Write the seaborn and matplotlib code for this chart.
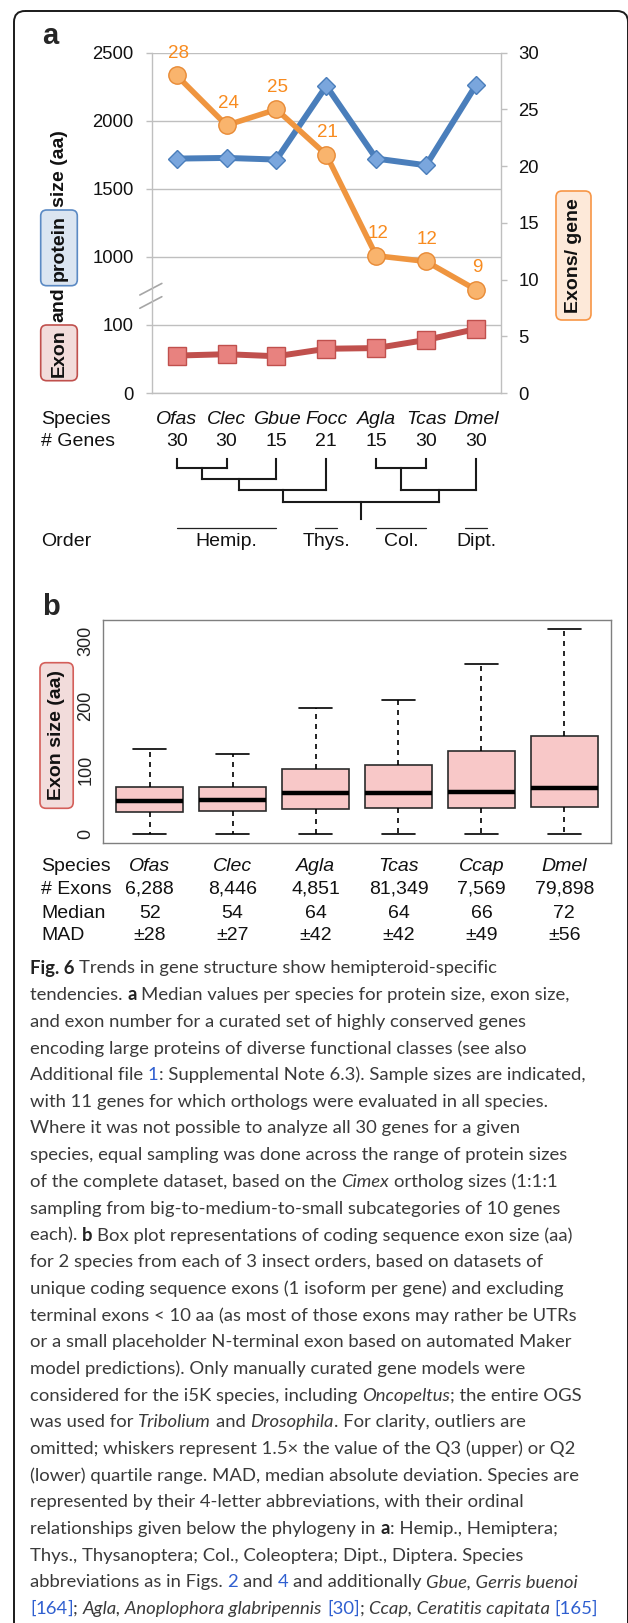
import numpy as np
import pandas as pd
import matplotlib
matplotlib.use("Agg")
import matplotlib.pyplot as plt
import matplotlib.transforms as mtransforms
from matplotlib.patches import FancyBboxPatch
import seaborn as sns

# ---- panel a data ----
species_a = ['Ofas', 'Clec', 'Gbue', 'Focc', 'Agla', 'Tcas', 'Dmel']
n_genes = [30, 30, 15, 21, 15, 30, 30]
protein_size = [1722, 1727, 1715, 2256, 1722, 1673, 2263]
exon_size = [55, 57, 54, 65, 66, 78, 94]
exons_per_gene = [28.0, 23.6, 25.0, 21.0, 12.1, 11.6, 9.1]
exon_labels = ['28', '24', '25', '21', '12', '12', '9']
left_ticks = [0, 100, 1000, 1500, 2000, 2500]
right_ticks = [0, 5, 10, 15, 20, 25, 30]

# phylogeny: (level, children), leaves are species indices
tree = (4, [(3, [(2, [(1, [0, 1]), 2]), 3]), (3, [(1, [4, 5]), 6])])
orders = [('Hemip.', 0, 2), ('Thys.', 3, 3), ('Col.', 4, 5), ('Dipt.', 6, 6)]

# ---- panel b data ----
species_b = ['Ofas', 'Clec', 'Agla', 'Tcas', 'Ccap', 'Dmel']
n_exons = ['6,288', '8,446', '4,851', '81,349', '7,569', '79,898']
medians = [52, 54, 64, 64, 66, 72]
mads = [28, 27, 42, 42, 49, 56]
# five-number summaries
box_low = [1, 1, 0, 0, 1, 0]
box_q1 = [35, 37, 40, 41, 41, 43]
box_q3 = [74, 73, 102, 108, 130, 153]
box_high = [132, 125, 196, 208, 264, 319]

sns.set_style("white")
plt.rcParams['font.family'] = ['Liberation Sans', 'DejaVu Sans']

W, H = 628, 1623
fig = plt.figure(figsize=(W / 100, H / 100), dpi=100)
fig.patch.set_facecolor('white')
px = mtransforms.Affine2D().scale(1 / W, -1 / H).translate(0, 1) + fig.transFigure


def frac_rect(x0, y0, x1, y1):
    return [x0 / W, 1 - y1 / H, (x1 - x0) / W, (y1 - y0) / H]


def label_box(x0, y0, x1, y1, face, edge):
    fig.add_artist(FancyBboxPatch((x0, y0), x1 - x0, y1 - y0,
                                  boxstyle='round,pad=0,rounding_size=6',
                                  transform=px, facecolor=face, edgecolor=edge,
                                  linewidth=1.2))


# outer frame
fig.add_artist(FancyBboxPatch((14, 11), 614, 1700, boxstyle='round,pad=0,rounding_size=11',
                              transform=px, facecolor='none', edgecolor='#1a1a1a', linewidth=1.4))

gray = '#bfbfbf'
blue, blue_face = '#4a7ebb', '#7aa6dd'
red, red_face = '#c0504d', '#e8827f'
orange, orange_face = '#ef953f', '#f9b46d'

# ================= panel a =================
df_a = pd.DataFrame({'species': species_a, 'protein': protein_size,
                     'exon': exon_size, 'exons_gene': exons_per_gene})

ax = fig.add_axes(frac_rect(151.7, 52.7, 501, 393))
sns.pointplot(data=df_a, x='species', y='exon', order=species_a, ax=ax, color=red,
              markers='s', errorbar=None, markersize=12.5, linewidth=4.3)
ln = ax.lines[-1]
ln.set_markerfacecolor(red_face); ln.set_markeredgecolor(red); ln.set_markeredgewidth(1)
sns.pointplot(data=df_a, x='species', y='protein', order=species_a, ax=ax, color=blue,
              markers='D', errorbar=None, markersize=9.5, linewidth=4.3)
ln = ax.lines[-1]
ln.set_markerfacecolor(blue_face); ln.set_markeredgecolor(blue); ln.set_markeredgewidth(1)


def fwd(v):
    v = np.asarray(v, dtype=float)
    return np.where(v <= 100, v / 100, np.where(v <= 1000, 1 + (v - 100) / 900, 2 + (v - 1000) / 500))


def inv(p):
    p = np.asarray(p, dtype=float)
    return np.where(p <= 1, p * 100, np.where(p <= 2, 100 + (p - 1) * 900, 1000 + (p - 2) * 500))


ax.set_yscale('function', functions=(fwd, inv))
ax.set_ylim(0, 2500)
ax.set_yticks(left_ticks, labels=[str(t) for t in left_ticks])
ax.grid(axis='y', color=gray, linewidth=1)
ax.grid(axis='x', visible=False)
ax.set_axisbelow(True)

ax2 = ax.twinx()
sns.pointplot(data=df_a, x='species', y='exons_gene', order=species_a, ax=ax2, color=orange,
              markers='o', errorbar=None, markersize=12.5, linewidth=4)
ln = ax2.lines[-1]
ln.set_markerfacecolor(orange_face); ln.set_markeredgecolor('#e88a35'); ln.set_markeredgewidth(1)
ax2.set_ylim(0, 30)
ax2.set_yticks(right_ticks, labels=[str(t) for t in right_ticks])
for i, (v, lbl) in enumerate(zip(exons_per_gene, exon_labels)):
    ax2.annotate(lbl, (i, v), xytext=(1, 16), textcoords='offset points', ha='center',
                 va='center', color='#f88b1f', fontsize=13.5)

ax.set_xlim(-0.5, len(species_a) - 0.5)
ax.set_xticks(np.arange(len(species_a) + 1) - 0.5)
ax.set_xticklabels([])
for a in (ax, ax2):
    a.set_xlabel(''); a.set_ylabel('')
    for s in a.spines.values():
        s.set_visible(False)
ax.spines['left'].set_visible(True); ax.spines['bottom'].set_visible(True)
ax2.spines['right'].set_visible(True)
for s in (ax.spines['left'], ax.spines['bottom'], ax2.spines['right']):
    s.set_color(gray); s.set_linewidth(1)
ax.tick_params(axis='both', direction='out', length=4.5, width=1, color=gray)
ax.tick_params(axis='y', labelsize=13.3, pad=8.4, labelcolor='#111111')
ax2.tick_params(axis='y', direction='out', length=4.5, width=1, color=gray,
                labelsize=13.3, pad=8, labelcolor='#111111')

# axis break marks
for y0 in (0.249, 0.288):
    ax.plot([-0.034, 0.029], [y0, y0 + 0.034], transform=ax.transAxes,
            color='#a6a6a6', linewidth=1.2, clip_on=False)

# axis labels in boxes
label_box(40.7, 325, 77.3, 380.7, '#f2dcdb', '#c0504d')
label_box(40.7, 210, 77.3, 285.7, '#dbe5f1', '#5b8ac4')
label_box(556, 191, 591, 320, '#fde9d9', '#f79646')
for word, yc in [('Exon', 352.8), ('and', 305), ('protein', 247.9), ('size (aa)', 168.3)]:
    fig.text(59, yc, word, transform=px, rotation=90, ha='center', va='center',
             fontsize=14, fontweight='bold', color='#111111')
fig.text(573.5, 255.5, 'Exons/ gene', transform=px, rotation=90, ha='center', va='center',
         fontsize=14, fontweight='bold', color='#111111')
fig.text(50.7, 36, 'a', transform=px, ha='center', va='center', fontsize=21, fontweight='bold')

# rows under panel a
bx_a = mtransforms.blended_transform_factory(ax.transData, px)
row_kw = dict(fontsize=14, va='center', color='#111111')
fig.text(41, 420, 'Species', transform=px, ha='left', **row_kw)
fig.text(41, 441.7, '# Genes', transform=px, ha='left', **row_kw)
for i, (sp, n) in enumerate(zip(species_a, n_genes)):
    ax.text(i, 420, sp, transform=bx_a, ha='center', style='italic', clip_on=False, **row_kw)
    ax.text(i, 441.7, str(n), transform=bx_a, ha='center', clip_on=False, **row_kw)

leaf_top = 459.3
tree_levels = {1: 467.7, 2: 479, 3: 490, 4: 501.7}
tree_kw = dict(transform=bx_a, color='#1a1a1a', linewidth=1.5, clip_on=False,
               solid_capstyle='projecting')


def draw_clade(node):
    if isinstance(node, int):
        return node, leaf_top
    level, kids = node
    y = tree_levels[level]
    xs = []
    for k in kids:
        kx, ky = draw_clade(k)
        ax.plot([kx, kx], [ky, y], **tree_kw)
        xs.append(kx)
    ax.plot([min(xs), max(xs)], [y, y], **tree_kw)
    return (min(xs) + max(xs)) / 2, y


root_x, root_y = draw_clade(tree)
ax.plot([root_x, root_x], [root_y, 519.3], **tree_kw)

fig.text(41, 541.7, 'Order', transform=px, ha='left', **row_kw)
for name, i0, i1 in orders:
    x0, x1 = (i0, i1) if i0 != i1 else (i0 - 0.22, i0 + 0.22)
    ax.plot([x0, x1], [527.7, 527.7], transform=bx_a, color='#222222', linewidth=0.9,
            clip_on=False)
    ax.text((i0 + i1) / 2, 541.7, name, transform=bx_a, ha='center', clip_on=False, **row_kw)

# ================= panel b =================
df_b = pd.DataFrame({
    'species': np.repeat(species_b, 5),
    'value': np.column_stack([box_low, box_q1, medians, box_q3, box_high]).ravel(),
})
axb = fig.add_axes(frac_rect(103.2, 620, 610.8, 842.7))
sns.boxplot(data=df_b, x='species', y='value', order=species_b, ax=axb, color='#f8c8c8',
            saturation=1, width=0.8, whis=(0, 100), linewidth=1.2, linecolor='#2b2b2b',
            showfliers=False,
            medianprops=dict(color='black', linewidth=3.2),
            whiskerprops=dict(color='black', linestyle=(0, (3, 3))),
            capprops=dict(color='black'))
axb.set_xlim(-0.56, len(species_b) - 0.44)
axb.set_ylim(-13, 333)
axb.set_xlabel(''); axb.set_ylabel('')
axb.set_xticks(range(len(species_b)))
axb.set_xticklabels([])
axb.set_yticks([0, 100, 200, 300])
for s in axb.spines.values():
    s.set_color('#7f7f7f'); s.set_linewidth(1)
axb.tick_params(axis='x', direction='out', length=2.5, width=1, color='#555555')
axb.tick_params(axis='y', direction='out', length=5, width=1, color='#555555',
                labelsize=13, pad=1.5, labelrotation=90, labelcolor='#222222')
for t in axb.get_yticklabels():
    t.set_va('center')

label_box(40, 662.7, 73.2, 808.3, '#f2dcdb', '#d45f5a')
fig.text(56.6, 735.5, 'Exon size (aa)', transform=px, rotation=90, ha='center', va='center',
         fontsize=14, fontweight='bold', color='#111111')
fig.text(51, 606.7, 'b', transform=px, ha='center', va='center', fontsize=21, fontweight='bold')

bx_b = mtransforms.blended_transform_factory(axb.transData, px)
rows_b = [('Species', 866.7), ('# Exons', 889.3), ('Median', 914), ('MAD', 936)]
for name, yy in rows_b:
    fig.text(41, yy, name, transform=px, ha='left', **row_kw)
for i in range(len(species_b)):
    axb.text(i, 866.7, species_b[i], transform=bx_b, ha='center', style='italic',
             clip_on=False, **row_kw)
    axb.text(i, 889.3, n_exons[i], transform=bx_b, ha='center', clip_on=False, **row_kw)
    axb.text(i, 914, str(medians[i]), transform=bx_b, ha='center', clip_on=False, **row_kw)
    axb.text(i, 936, '\u00b1' + str(mads[i]), transform=bx_b, ha='center', clip_on=False,
             **row_kw)

# ================= caption =================
N, B, I, L = 'n', 'b', 'i', 'l'
caption = [
    [("Fig. 6", B), (" Trends in gene structure show hemipteroid-specific", N)],
    [("tendencies. ", N), ("a", B), (" Median values per species for protein size, exon size,", N)],
    [("and exon number for a curated set of highly conserved genes", N)],
    [("encoding large proteins of diverse functional classes (see also", N)],
    [("Additional file ", N), ("1", L), (": Supplemental Note 6.3). Sample sizes are indicated,", N)],
    [("with 11 genes for which orthologs were evaluated in all species.", N)],
    [("Where it was not possible to analyze all 30 genes for a given", N)],
    [("species, equal sampling was done across the range of protein sizes", N)],
    [("of the complete dataset, based on the ", N), ("Cimex", I), (" ortholog sizes (1:1:1", N)],
    [("sampling from big-to-medium-to-small subcategories of 10 genes", N)],
    [("each). ", N), ("b", B), (" Box plot representations of coding sequence exon size (aa)", N)],
    [("for 2 species from each of 3 insect orders, based on datasets of", N)],
    [("unique coding sequence exons (1 isoform per gene) and excluding", N)],
    [("terminal exons < 10 aa (as most of those exons may rather be UTRs", N)],
    [("or a small placeholder N-terminal exon based on automated Maker", N)],
    [("model predictions). Only manually curated gene models were", N)],
    [("considered for the i5K species, including ", N), ("Oncopeltus", I), ("; the entire OGS", N)],
    [("was used for ", N), ("Tribolium", I), (" and ", N), ("Drosophila", I),
     (". For clarity, outliers are", N)],
    [("omitted; whiskers represent 1.5\u00d7 the value of the Q3 (upper) or Q2", N)],
    [("(lower) quartile range. MAD, median absolute deviation. Species are", N)],
    [("represented by their 4-letter abbreviations, with their ordinal", N)],
    [("relationships given below the phylogeny in ", N), ("a", B), (": Hemip., Hemiptera;", N)],
    [("Thys., Thysanoptera; Col., Coleoptera; Dipt., Diptera. Species", N)],
    [("abbreviations as in Figs. ", N), ("2", L), (" and ", N), ("4", L),
     (" and additionally ", N), ("Gbue, Gerris buenoi", I)],
    [("[", L), ("164", L), ("]", L), ("; ", N), ("Agla, Anoplophora glabripennis", I), (" ", N),
     ("[30]", L), ("; ", N), ("Ccap, Ceratitis capitata", I), (" ", N), ("[165]", L)],
]
cap_style = {
    N: dict(color='#3a3a3a'),
    B: dict(color='#222222', fontweight='bold'),
    I: dict(color='#3a3a3a', style='italic'),
    L: dict(color='#2f5fd0'),
}
cap_size = 13.3
renderer = fig.canvas.get_renderer()


def run_width(s, st):
    kw = dict(fontsize=cap_size, fontfamily='Lato', **cap_style[st])
    t = fig.text(0, 0, '|' + s + '|', **kw)
    w1 = t.get_window_extent(renderer).width
    t.remove()
    t = fig.text(0, 0, '||', **kw)
    w0 = t.get_window_extent(renderer).width
    t.remove()
    return w1 - w0


for k, line in enumerate(caption):
    y = 968.3 + k * 26.7
    x = 30
    for s, st in line:
        body = s.lstrip(' ')
        lead = run_width(s, st) - run_width(body, st) if body != s else 0
        fig.text(x + lead, y, body, transform=px, ha='left', va='center',
                 fontsize=cap_size, fontfamily='Lato', **cap_style[st])
        x += run_width(s, st)

fig.savefig('out.png', dpi=100)
